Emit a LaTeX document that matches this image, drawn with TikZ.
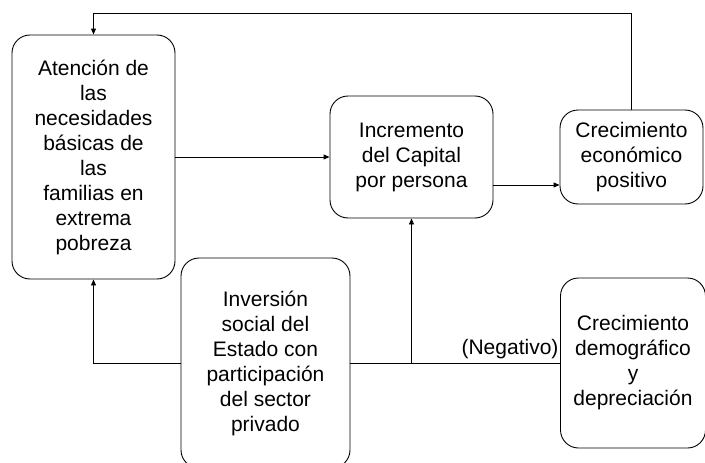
\documentclass[tikz,border=0pt]{standalone}
\usepackage{fontspec}
\setmainfont{Liberation Sans}
\usetikzlibrary{arrows.meta}
\newcommand{\cajafont}{\fontsize{21}{25}\selectfont}

\begin{document}
\begin{tikzpicture}[x=1pt, y=-1pt,
    caja/.style={draw, rounded corners=18pt, align=center, line width=.9pt, font=\cajafont, inner sep=0pt},
    flecha/.style={line width=.9pt, -{Triangle[length=6pt, width=5pt]}}]
    \useasboundingbox (0,0) rectangle (705,463);
    % cajas
        \node (atencion) at (93.5,157) [caja, minimum width=163pt, minimum height=244pt]
            {Atención de\\ las\\ necesidades\\ básicas de\\ las\\ familias en\\ extrema\\ pobreza};
        \node (incremento) at (411.5,157) [caja, minimum width=163pt, minimum height=122pt]
            {Incremento\\ del Capital\\ por persona};
        \node (crecimiento) at (631.5,157) [caja, minimum width=143pt, minimum height=94pt]
            {Crecimiento\\ económico\\ positivo};
        \node (inversion) at (265.5,363) [caja, minimum width=169pt, minimum height=210pt]
            {Inversión\\ social del\\ Estado con\\ participación\\ del sector\\ privado};
        \node (demografico) at (633,363) [caja, minimum width=145pt, minimum height=170pt]
            {Crecimiento\\ demográfico\\ y\\ depreciación};

    % conexiones
        \coordinate (arriba) at (93.5,13);
        \draw[flecha] (crecimiento.north) |- (arriba) -- (atencion.north);
        \draw[flecha] (atencion) -- (incremento);
        \draw[flecha] ([yshift=-28pt]incremento.east) -- ([yshift=-28pt]crecimiento.west);
        \draw[flecha] (inversion.west) -| (atencion.south);
        \draw[line width=.9pt] (inversion.east) -- (demografico.west);
        \draw[flecha] (incremento.south |- inversion.east) -- (incremento.south);
        \node (negativo) at (510,349) [font=\cajafont, inner sep=0pt] {(Negativo)};
\end{tikzpicture}
\end{document}
